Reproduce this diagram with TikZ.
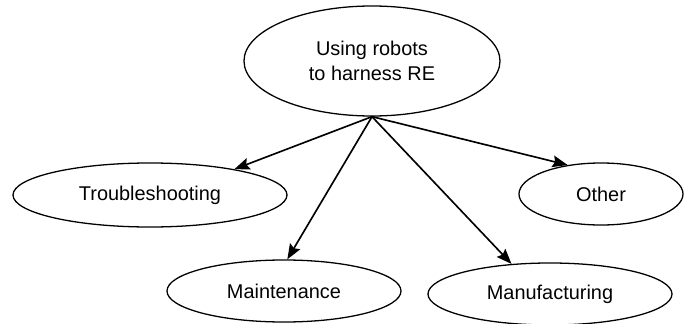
\documentclass[tikz,border=0pt]{standalone}
\usepackage{fontspec}
\setmainfont{Liberation Sans}
\usetikzlibrary{arrows.meta, shapes.geometric}

\begin{document}
\begin{tikzpicture}[>={Stealth[length=13pt, width=10pt, inset=2pt]}, x=0.03cm, y=0.03cm,
          font=\fontsize{17}{21}\selectfont,
          el/.style={ellipse, draw, line width=1.1pt, inner sep=0pt, align=center},
          ar/.style={->, line width=1.4pt}]
        \useasboundingbox (0,0) rectangle (686,323);
        \node[el, minimum width=7.68cm, minimum height=3.3cm] (re) at (372, 262) {Using robots\\to harness RE};
        \node[el, minimum width=8.22cm, minimum height=1.92cm] (ts) at (150, 128) {Troubleshooting};
        \node[el, minimum width=7.02cm, minimum height=1.86cm] (mt) at (284, 32) {Maintenance};
        \node[el, minimum width=7.32cm, minimum height=1.86cm] (mf) at (550, 29) {Manufacturing};
        \node[el, minimum width=4.92cm, minimum height=1.86cm] (ot) at (601, 129) {Other};
        \draw[ar] (re.south) -- (ts.17); \draw[ar] (re.south) -- (mt.84);
        \draw[ar] (re.south) -- (mf.142); \draw[ar] (re.south) -- (ot.139);
      \end{tikzpicture}
\end{document}
